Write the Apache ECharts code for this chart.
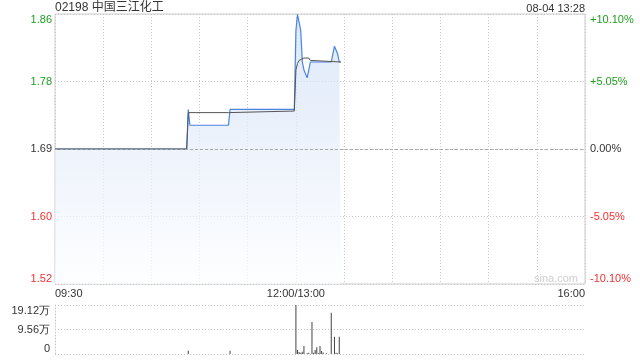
<!DOCTYPE html>
<html>
<head>
<meta charset="utf-8">
<script src="https://cdn.jsdelivr.net/npm/echarts@6/dist/echarts.min.js"></script>
<style>html,body{margin:0;padding:0;background:#fff}#c{width:640px;height:360px}</style>
</head>
<body>
<div id="c"></div>
<script>
// ---- data (minute index from 09:30, lunch merged at 150 = 12:00/13:00) ----
const prevClose = 1.69;
const priceMinutes = [0, 82, 83, 84, 108, 109, 149, 150, 151, 152, 153, 154, 155, 156, 157, 158, 159, 172, 173, 174, 175, 176, 177, 178];
const priceValues  = [1.69, 1.69, 1.74, 1.72, 1.72, 1.74, 1.74, 1.84, 1.86, 1.85, 1.84, 1.80, 1.79, 1.79, 1.78, 1.78, 1.80, 1.80, 1.81, 1.82, 1.82, 1.81, 1.80, 1.80];
const avgMinutes = [0, 82, 83, 108, 109, 149, 150, 151, 152, 153, 155, 158, 159, 160, 178];
const avgValues  = [1.69, 1.69, 1.736, 1.736, 1.738, 1.738, 1.79, 1.798, 1.802, 1.804, 1.805, 1.805, 1.802, 1.800, 1.800];
const volMinutes = [83, 109, 150, 151, 152, 153, 154, 155, 157, 158, 160, 161, 162, 163, 164, 165, 166, 167, 169, 172, 174, 175, 176, 177];
const volValues  = [13000, 13000, 191200, 15600, 8000, 5000, 9000, 31000, 3000, 5000, 124900, 5000, 15600, 26000, 3000, 31000, 12000, 6000, 2500, 161000, 67500, 5000, 3000, 67500];
const xTickLabels = {0: '09:30', 150: '12:00/13:00', 330: '16:00'};
const pctLimit = 10.10;
const pctStep = 5.05;
const volMax = 191200;
const titleText = '02198 中国三江化工';
const timeText = '08-04 13:28';

const GREEN = '#1f9f1f', RED = '#f03030', DARK = '#333';
const toPct = p => (p / prevClose - 1) * 100;
const pctColor = v => Math.abs(v) < 1e-6 ? DARK : (v > 0 ? GREEN : RED);

const chart = echarts.init(document.getElementById('c'), null, {renderer: 'canvas'});
const dotted = {color: '#c8c8c8', type: [1, 2], width: 1};

chart.setOption({
  animation: false,
  backgroundColor: '#fff',
  textStyle: {fontFamily: 'Liberation Sans, Arial, sans-serif'},
  graphic: [
    {type: 'text', left: 55, top: 2, style: {text: titleText, fontSize: 12, fill: '#333', fontFamily: 'Liberation Sans, Noto Sans CJK SC, sans-serif'}},
    {type: 'text', right: 55, top: 3, style: {text: timeText, fontSize: 11, fill: '#333', fontFamily: 'Liberation Sans, sans-serif'}},
    {type: 'text', right: 62, top: 273, style: {text: 'sina.com', fontSize: 11, fill: '#cfcfcf', fontFamily: 'Liberation Sans, sans-serif'}}
  ],
  grid: [
    {left: 55, right: 55, top: 14, height: 270, show: true, borderColor: '#cccccc', borderWidth: 1, backgroundColor: 'transparent'},
    {left: 55, right: 55, top: 305, height: 49}
  ],
  xAxis: [
    {type: 'value', gridIndex: 0, min: 0, max: 330, interval: 30,
     axisLine: {show: false}, axisTick: {show: false},
     splitLine: {show: true, lineStyle: dotted},
     axisLabel: {margin: 4, fontSize: 11, color: DARK, showMinLabel: true, showMaxLabel: true, hideOverlap: false,
       alignMinLabel: 'left', alignMaxLabel: 'right',
       formatter: v => xTickLabels[Math.round(v)] || ''}},
    {type: 'value', gridIndex: 1, min: 0, max: 330, interval: 30,
     axisLine: {show: false}, axisTick: {show: false}, splitLine: {show: false}, axisLabel: {show: false}}
  ],
  yAxis: [
    {type: 'value', gridIndex: 0, min: -pctLimit, max: pctLimit, interval: pctStep,
     axisLine: {show: false}, axisTick: {show: false},
     splitLine: {show: true, lineStyle: dotted},
     axisLabel: {margin: 3, fontSize: 11, showMinLabel: true, showMaxLabel: true,
       verticalAlignMinLabel: 'bottom', verticalAlignMaxLabel: 'top',
       color: v => pctColor(v),
       formatter: v => (prevClose * (1 + v / 100)).toFixed(2)}},
    {type: 'value', gridIndex: 0, position: 'right', min: -pctLimit, max: pctLimit, interval: pctStep,
     axisLine: {show: false}, axisTick: {show: false}, splitLine: {show: false},
     axisLabel: {margin: 5, fontSize: 11, showMinLabel: true, showMaxLabel: true,
       verticalAlignMinLabel: 'bottom', verticalAlignMaxLabel: 'top',
       color: v => pctColor(v),
       formatter: v => (Math.abs(v) < 1e-6 ? '0.00' : (v > 0 ? '+' : '') + v.toFixed(2)) + '%'}},
    {type: 'value', gridIndex: 1, min: 0, max: volMax, interval: volMax / 2,
     axisLine: {show: true, lineStyle: dotted}, axisTick: {show: false},
     splitLine: {show: true, lineStyle: dotted},
     axisLabel: {margin: 5, fontSize: 11, color: DARK, showMinLabel: true, showMaxLabel: true,
       verticalAlignMinLabel: 'bottom', verticalAlignMaxLabel: 'top',
       formatter: v => v === 0 ? '0' : (v / 10000).toFixed(2) + '万'}}
  ],
  series: [
    {type: 'line', name: 'price', xAxisIndex: 0, yAxisIndex: 0, symbol: 'none',
     data: priceMinutes.map((m, i) => [m, toPct(priceValues[i])]),
     lineStyle: {color: '#4a84dc', width: 1.2},
     areaStyle: {origin: 'start', color: new echarts.graphic.LinearGradient(0, 0, 0, 1, [
       {offset: 0, color: '#cfdef6'}, {offset: 1, color: '#fdfeff'}])},
     markLine: {silent: true, symbol: 'none', label: {show: false},
       lineStyle: {color: '#a8a8a8', type: [3, 2], width: 1},
       data: [{yAxis: 0}]},
     z: 3},
    {type: 'line', name: 'avg', xAxisIndex: 0, yAxisIndex: 0, symbol: 'none',
     data: avgMinutes.map((m, i) => [m, toPct(avgValues[i])]),
     lineStyle: {color: '#555', width: 1}, z: 4},
    {type: 'bar', name: 'vol', xAxisIndex: 1, yAxisIndex: 2, barWidth: 1,
     data: volMinutes.map((m, i) => [m, volValues[i]]),
     itemStyle: {color: '#444'}}
  ]
});
</script>
</body>
</html>
